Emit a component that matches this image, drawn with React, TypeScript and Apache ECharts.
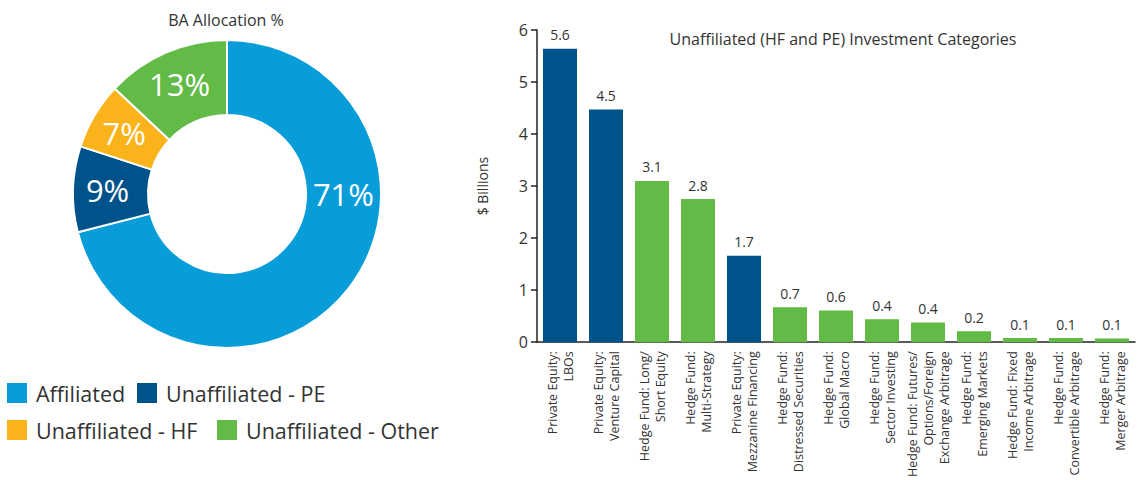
import React, { useEffect, useRef } from "react";
import * as echarts from "echarts";

const FONT = "'Open Sans', 'Noto Sans', sans-serif";
const TEXT = "#333333";

const allocationNames = ["Affiliated", "Unaffiliated - PE", "Unaffiliated - HF", "Unaffiliated - Other"];
const allocationValues = [71, 9, 7, 13];
const allocationColors = ["#089DD9", "#00538A", "#FBB31B", "#62BB46"];

const categories = [
  "Private Equity:\nLBOs",
  "Private Equity:\nVenture Capital",
  "Hedge Fund: Long/\nShort Equity",
  "Hedge Fund:\nMulti-Strategy",
  "Private Equity:\nMezzanine Financing",
  "Hedge Fund:\nDistressed Securities",
  "Hedge Fund:\nGlobal Macro",
  "Hedge Fund:\nSector Investing",
  "Hedge Fund: Futures/\nOptions/Foreign\nExchange Arbitrage",
  "Hedge Fund:\nEmerging Markets",
  "Hedge Fund: Fixed\nIncome Arbitrage",
  "Hedge Fund:\nConvertible Arbitrage",
  "Hedge Fund:\nMerger Arbitrage",
];
const investmentValues = [5.64, 4.47, 3.1, 2.75, 1.66, 0.67, 0.61, 0.44, 0.38, 0.21, 0.08, 0.08, 0.07];
const investmentGroups = ["PE", "PE", "HF", "HF", "PE", "HF", "HF", "HF", "HF", "HF", "HF", "HF", "HF"];
const groupColors: Record<string, string> = { PE: "#00538A", HF: "#62BB46" };
const yTicks = [0, 1, 2, 3, 4, 5, 6];

export default function App() {
  const ref = useRef<HTMLDivElement>(null);
  useEffect(() => {
    document.body.style.margin = "0";
    if (!ref.current) return;
    const chart = echarts.init(ref.current, undefined, { renderer: "svg" });
    const legendPos = [
      { left: 5, top: 381 },
      { left: 135, top: 381 },
      { left: 5, top: 418 },
      { left: 215, top: 418 },
    ];
    chart.setOption({
      animation: false,
      color: allocationColors,
      textStyle: { fontFamily: FONT },
      title: [
        {
          text: "BA Allocation %",
          left: 221,
          top: 7,
          textAlign: "center",
          textStyle: { fontSize: 16, fontWeight: "normal", color: TEXT, fontFamily: FONT },
        },
        {
          text: "Unaffiliated (HF and PE) Investment Categories",
          left: 838,
          top: 26,
          textAlign: "center",
          textStyle: { fontSize: 16, fontWeight: "normal", color: TEXT, fontFamily: FONT },
        },
      ],
      legend: allocationNames.map((n, i) => ({
        data: [n],
        left: legendPos[i].left,
        top: legendPos[i].top,
        itemWidth: 22,
        itemHeight: 22,
        icon: "rect",
        padding: 0,
        selectedMode: false,
        textStyle: { fontSize: 21.5, color: TEXT, fontFamily: FONT, padding: [0, 0, 0, 3] },
      })),
      grid: { left: 537, right: 3, top: 30, bottom: 136, containLabel: false },
      xAxis: {
        type: "category",
        data: categories,
        axisLine: { lineStyle: { color: "#222", width: 1.5 } },
        axisTick: { inside: true, length: 7, lineStyle: { color: "#222", width: 1.5 } },
        axisLabel: {
          interval: 0,
          rotate: 90,
          fontSize: 12.5,
          lineHeight: 16,
          margin: 9,
          color: TEXT,
          fontFamily: FONT,
        },
      },
      yAxis: {
        type: "value",
        min: 0,
        max: 6,
        interval: 1,
        name: "$ Billions",
        nameLocation: "middle",
        nameGap: 48,
        nameTextStyle: { fontSize: 14, color: TEXT, fontFamily: FONT },
        axisLine: { show: true, lineStyle: { color: "#222", width: 1.5 } },
        axisTick: { show: true, length: 6, lineStyle: { color: "#222", width: 1.5 } },
        axisLabel: {
          fontSize: 16,
          color: TEXT,
          margin: 9,
          fontFamily: FONT,
          formatter: (v: number) => (yTicks.includes(v) ? String(v) : ""),
        },
        splitLine: { show: false },
      },
      series: [
        {
          type: "pie",
          center: [227, 194],
          radius: [79, 154],
          startAngle: 90,
          clockwise: true,
          itemStyle: { borderColor: "#fff", borderWidth: 2 },
          label: {
            show: true,
            position: "inside",
            formatter: "{c}%",
            color: "#fff",
            fontSize: 31,
            fontFamily: FONT,
            fontWeight: "normal",
          },
          labelLayout: (p: any) => (p.dataIndex === 0 ? { dx: 22, dy: -73 } : {}),
          emphasis: { disabled: true },
          data: allocationNames.map((n, i) => ({ name: n, value: allocationValues[i] })),
        },
        {
          type: "bar",
          barWidth: 34,
          data: investmentValues.map((v, i) => ({
            value: v,
            itemStyle: { color: groupColors[investmentGroups[i]] },
          })),
          label: {
            show: true,
            position: "top",
            distance: 7,
            fontSize: 14,
            color: TEXT,
            fontFamily: FONT,
            formatter: (p: any) => Number(p.value).toFixed(1),
          },
          emphasis: { disabled: true },
        },
      ],
    });
    return () => chart.dispose();
  }, []);
  return <div ref={ref} style={{ width: 1138, height: 480 }} />;
}
